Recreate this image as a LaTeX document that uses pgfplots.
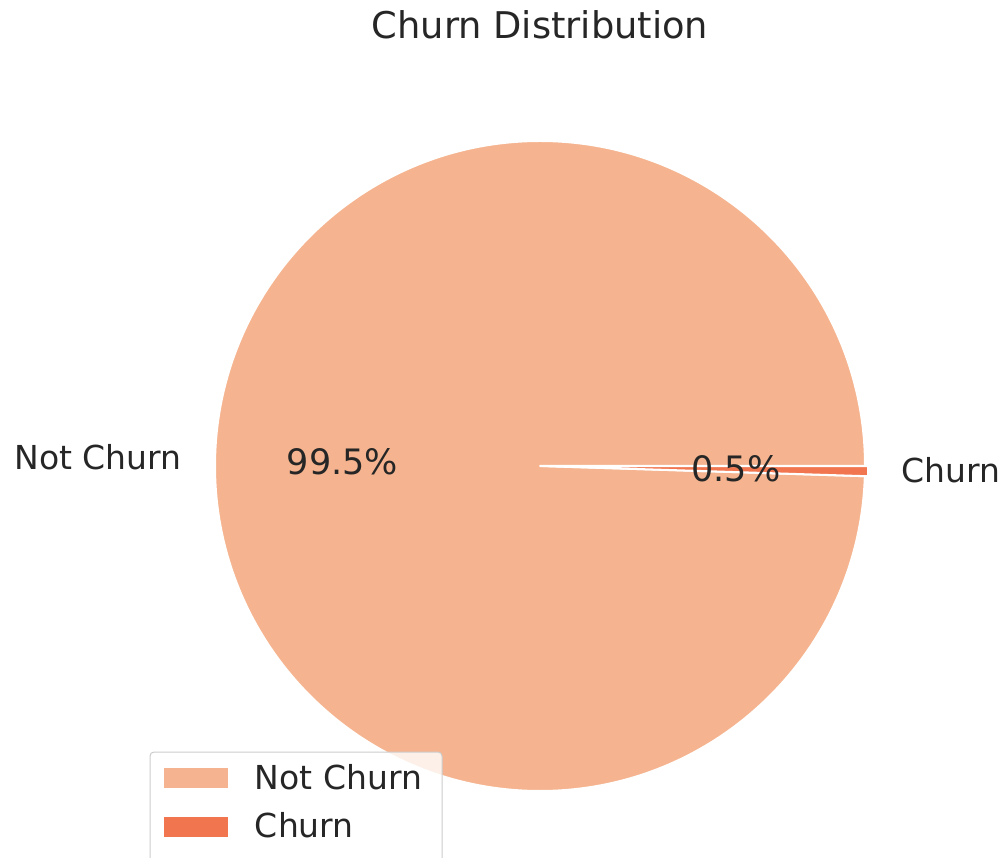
\documentclass[border=0pt]{standalone}
\usepackage{fontspec}
\setmainfont{DejaVu Sans}
\usepackage{pgfplots}
\usepackage{pgfplotstable}
\pgfplotsset{compat=1.18}
\definecolor{cNot}{HTML}{F5B48F}
\definecolor{cChurn}{HTML}{F1764F}
\definecolor{txt}{HTML}{262626}
\definecolor{lgborder}{HTML}{CCCCCC}

\pgfplotstableread{
label value
NotChurn 99.5
Churn 0.5
}\churntable

\begin{document}
\begin{tikzpicture}
\pgfplotstablegetelem{0}{value}\of\churntable \let\vNot\pgfplotsretval
\pgfplotstablegetelem{1}{value}\of\churntable \let\vChurn\pgfplotsretval
\pgfmathsetmacro\aNot{(\vNot/(\vNot+\vChurn))*360}
\pgfmathsetmacro\aMid{(\aNot+360)/2}
\pgfmathsetmacro\ex{0.01*cos(\aMid)}
\pgfmathsetmacro\ey{0.01*sin(\aMid)}
\path[use as bounding box, clip] (0,0) rectangle (503pt,428.5pt);
\begin{axis}[at={(0,0)}, anchor=south west,
  x=162.5pt, y=162.5pt,
  xmin=-1.661538, xmax=1.433846, ymin=-1.203077, ymax=1.433846,
  hide axis, clip=false]
  % Not Churn wedge
  \filldraw[fill=cNot, draw=white, line width=1pt, line join=round]
    (axis cs:0,0) -- (axis cs:1,0) arc[start angle=0, end angle=\aNot, radius=162.5pt] -- cycle;
  % Churn wedge (exploded)
  \filldraw[fill=cChurn, draw=white, line width=1pt, line join=round]
    (axis cs:\ex,\ey) -- ++(\aNot:162.5pt) arc[start angle=\aNot, end angle=360, radius=162.5pt] -- cycle;
  % labels
  \node[anchor=base east, inner sep=0, text=txt, font=\fontsize{16.5}{20}\selectfont] at (axis cs:-1.1015,-0.0123) {Not Churn};
  \node[anchor=base west, inner sep=0, text=txt, font=\fontsize{16.5}{20}\selectfont] at (axis cs:1.1123,-0.0514) {Churn};
  \node[anchor=base, inner sep=0, text=txt, font=\fontsize{17.5}{21}\selectfont] at (axis cs:-0.6077,-0.0277) {99.5\%};
  \node[anchor=base, inner sep=0, text=txt, font=\fontsize{17.5}{21}\selectfont] at (axis cs:0.6025,-0.0483) {0.5\%};
  % title
  \node[anchor=base, inner sep=0, text=txt, font=\fontsize{18.4}{22}\selectfont] at (axis cs:0,1.316) {Churn Distribution};
  % legend
  \filldraw[fill=white, fill opacity=0.8, draw=lgborder, line width=0.5pt, rounded corners=2pt]
    (axis cs:-1.2,-0.88) rectangle (axis cs:-0.3015,-1.243);
  \fill[cNot] (axis cs:-1.1569,-0.9292) rectangle (axis cs:-0.96,-0.9908);
  \fill[cChurn] (axis cs:-1.1569,-1.08) rectangle (axis cs:-0.96,-1.1415);
  \node[anchor=base west, inner sep=0, text=txt, font=\fontsize{16.5}{20}\selectfont] at (axis cs:-0.8782,-0.9969) {Not Churn};
  \node[anchor=base west, inner sep=0, text=txt, font=\fontsize{16.5}{20}\selectfont] at (axis cs:-0.8782,-1.1425) {Churn};
\end{axis}
\end{tikzpicture}
\end{document}
